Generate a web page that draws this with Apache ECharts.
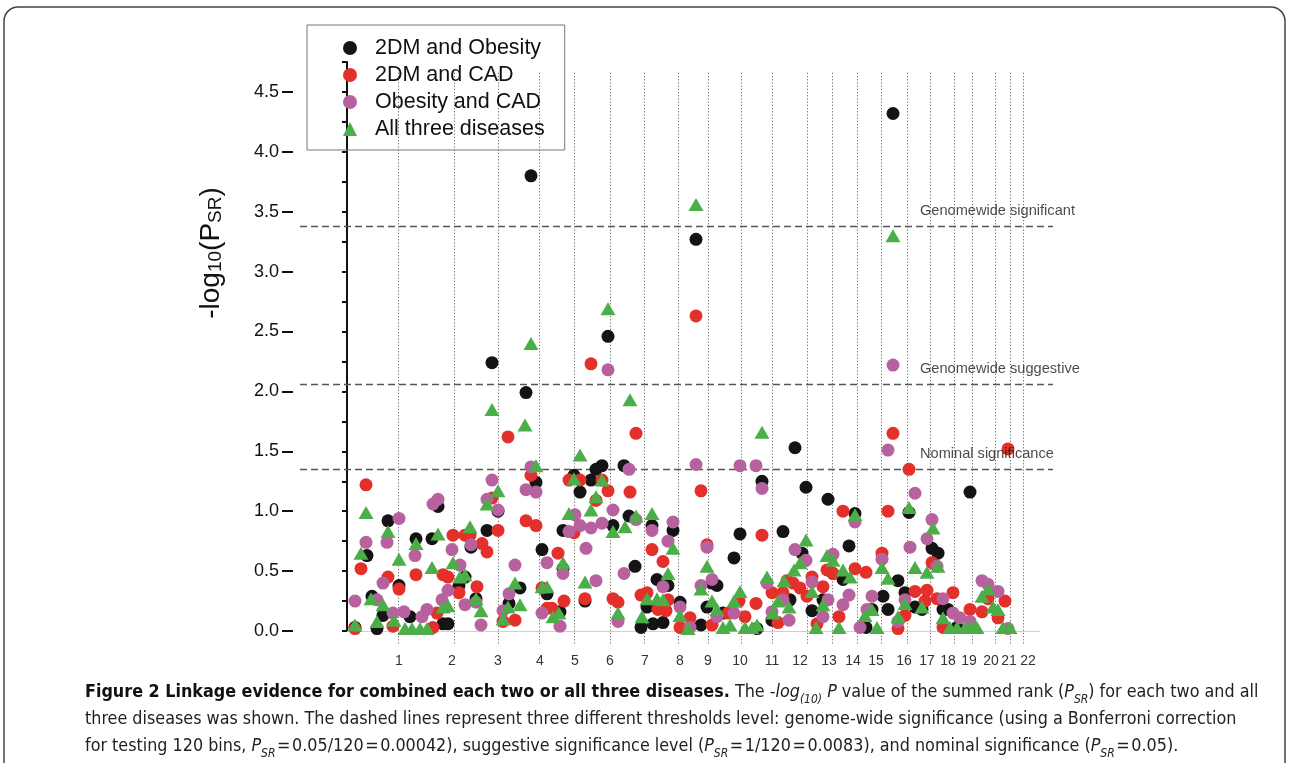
<!DOCTYPE html>
<html>
<head>
<meta charset="utf-8">
<script src="https://cdn.jsdelivr.net/npm/echarts@6/dist/echarts.min.js"></script>
<style>
html, body { margin: 0; padding: 0; background: #fff; }
#chart { width: 1290px; height: 763px; }
</style>
</head>
<body>
<div id="chart"></div>
<script>
// genome position (arbitrary units along the x axis) and -log10(P_SR)
var seriesNames = ['2DM and Obesity', '2DM and CAD', 'Obesity and CAD', 'All three diseases'];
var seriesColors = ['#141414', '#e3302a', '#b7629f', '#4cae49'];

var chrNames = ['1','2','3','4','5','6','7','8','9','10','11','12','13','14','15','16','17','18','19','20','21','22'];
var chrLabelPos = [52,105,151,193,228,263,298,333,361,393,425,453,482,506,529,557,580,601,622,644,662,681];
var chrLinePos = [51,107,151,192,227,263,297,331,361,394,425,460,485,510,534,560,583,607,625,648,663,676];

var yTicks = [0, 0.5, 1.0, 1.5, 2.0, 2.5, 3.0, 3.5, 4.0, 4.5];

var thresholds = [3.38, 2.06, 1.35];
var thresholdNames = ['Genomewide significant', 'Genomewide suggestive', 'Nominal significance'];

var dmObesity = [[8,0.03],[20,0.63],[25,0.29],[30,0.02],[36,0.13],[41,0.92],[52,0.38],[63,0.12],[69,0.77],[85,0.77],[91,1.04],[96,0.06],[101,0.06],[112,0.38],[118,0.45],[124,0.7],[129,0.27],[140,0.84],[145,2.24],[151,1.0],[162,0.23],[173,0.36],[179,1.99],[184,3.8],[189,1.24],[195,0.68],[200,0.31],[213,0.16],[216,0.52],[216,0.84],[227,1.3],[233,1.16],[238,0.25],[244,1.26],[249,1.35],[255,1.38],[261,2.46],[266,0.88],[277,1.38],[282,0.96],[288,0.54],[294,0.03],[300,0.2],[305,0.88],[306,0.06],[310,0.43],[316,0.07],[321,0.38],[326,0.84],[333,0.24],[349,3.27],[354,0.05],[360,0.2],[365,0.4],[370,0.38],[376,0.15],[387,0.61],[393,0.81],[410,0.02],[415,1.25],[425,0.09],[436,0.83],[443,0.26],[448,1.53],[455,0.65],[459,1.2],[465,0.17],[476,0.26],[481,1.1],[486,0.48],[496,0.43],[502,0.71],[508,0.98],[519,0.03],[525,0.18],[536,0.29],[541,0.18],[546,4.32],[551,0.42],[558,0.32],[562,0.99],[568,0.2],[575,0.18],[585,0.69],[591,0.65],[596,0.18],[601,0.18],[610,0.03],[623,1.16],[623,0.03]];

var dmCad = [[8,0.02],[14,0.52],[19,1.22],[41,0.45],[46,0.04],[52,0.35],[69,0.47],[86,0.03],[90,0.15],[96,0.47],[101,0.45],[106,0.8],[112,0.32],[118,0.8],[123,0.8],[130,0.37],[135,0.73],[140,0.66],[145,1.11],[151,0.84],[156,0.08],[161,1.62],[168,0.09],[179,0.92],[184,1.3],[189,0.88],[195,0.36],[200,0.19],[205,0.19],[211,0.65],[217,0.25],[222,1.26],[227,0.82],[233,1.26],[238,0.27],[244,2.23],[249,1.09],[255,1.26],[261,1.17],[266,0.27],[271,0.24],[283,1.16],[289,1.65],[294,0.3],[300,0.32],[305,0.68],[311,0.18],[316,0.58],[319,0.17],[321,0.26],[333,0.03],[343,0.11],[349,2.63],[354,1.17],[360,0.72],[365,0.05],[381,0.15],[392,0.25],[398,0.12],[409,0.23],[415,0.8],[425,0.32],[431,0.07],[436,0.32],[440,0.42],[446,0.4],[453,0.36],[460,0.29],[465,0.45],[470,0.06],[476,0.37],[480,0.51],[486,0.48],[492,0.12],[496,1.0],[508,0.52],[519,0.49],[535,0.65],[541,1.0],[546,1.65],[551,0.02],[558,0.13],[562,1.35],[568,0.33],[578,0.25],[580,0.34],[585,0.57],[590,0.27],[596,0.03],[606,0.32],[623,0.18],[635,0.16],[641,0.27],[651,0.11],[658,0.25],[661,1.52]];

var obesityCad = [[8,0.25],[19,0.74],[30,0.26],[36,0.4],[40,0.74],[46,0.15],[52,0.94],[57,0.16],[68,0.63],[75,0.12],[80,0.18],[86,1.06],[91,1.1],[95,0.26],[101,0.34],[105,0.68],[113,0.55],[118,0.22],[124,0.72],[129,0.24],[134,0.05],[140,1.1],[145,1.26],[151,1.01],[156,0.17],[162,0.31],[168,0.55],[179,1.18],[184,1.37],[189,1.16],[195,0.15],[200,0.57],[213,0.04],[216,0.48],[222,0.83],[228,0.97],[233,0.88],[239,0.69],[244,0.86],[249,0.42],[255,0.9],[261,2.18],[266,1.01],[271,0.08],[277,0.48],[282,1.35],[289,0.93],[305,0.84],[316,0.37],[321,0.75],[326,0.91],[333,0.2],[343,0.03],[349,1.39],[354,0.38],[360,0.7],[365,0.43],[370,0.12],[387,0.15],[393,1.38],[409,1.38],[415,1.19],[420,0.4],[425,0.16],[436,0.26],[442,0.09],[448,0.68],[459,0.59],[465,0.41],[476,0.12],[481,0.26],[486,0.64],[496,0.22],[502,0.3],[508,0.91],[513,0.03],[520,0.18],[525,0.29],[535,0.6],[541,1.51],[546,2.22],[551,0.08],[558,0.26],[563,0.7],[568,1.15],[580,0.77],[585,0.93],[590,0.54],[596,0.27],[606,0.15],[613,0.11],[623,0.08],[635,0.42],[641,0.39],[651,0.33],[661,0.02]];

var allThree = [[8,0.05],[14,0.65],[19,0.99],[24,0.27],[30,0.08],[36,0.22],[41,0.83],[47,0.09],[52,0.6],[58,0.02],[65,0.02],[69,0.73],[73,0.02],[80,0.02],[85,0.53],[91,0.81],[96,0.2],[101,0.21],[106,0.57],[113,0.45],[118,0.47],[123,0.87],[129,0.27],[134,0.17],[140,1.06],[145,1.85],[151,1.17],[156,0.1],[161,0.2],[168,0.4],[173,0.22],[178,1.72],[184,2.4],[189,1.38],[195,0.37],[200,0.37],[206,0.12],[212,0.15],[216,0.57],[222,0.98],[227,1.27],[233,1.47],[238,0.41],[244,1.01],[249,1.12],[255,1.26],[261,2.69],[266,0.83],[271,0.15],[278,0.87],[283,1.93],[289,0.96],[295,0.12],[300,0.27],[305,0.98],[310,0.27],[316,0.26],[321,0.48],[326,0.69],[333,0.13],[341,0.02],[349,3.56],[354,0.35],[360,0.54],[365,0.25],[370,0.18],[376,0.03],[383,0.05],[387,0.25],[393,0.33],[398,0.03],[405,0.03],[410,0.05],[415,1.66],[420,0.45],[426,0.15],[431,0.25],[437,0.42],[442,0.2],[447,0.51],[453,0.57],[459,0.76],[465,0.33],[469,0.03],[476,0.22],[480,0.63],[486,0.59],[492,0.03],[496,0.51],[503,0.45],[508,0.97],[518,0.13],[525,0.18],[530,0.03],[535,0.53],[541,0.44],[546,3.3],[551,0.12],[558,0.23],[562,1.03],[568,0.53],[575,0.2],[580,0.49],[586,0.86],[591,0.54],[596,0.11],[603,0.03],[610,0.03],[618,0.03],[625,0.04],[630,0.03],[635,0.29],[641,0.35],[646,0.2],[651,0.18],[656,0.03],[663,0.03]];

var seriesData = [dmObesity, dmCad, obesityCad, allThree];
var seriesSymbols = ['circle', 'circle', 'circle', 'triangle'];

var FONT = 'Liberation Sans, Arial, sans-serif';
var CAPTION_FONT = "'Liberation Sans Narrow', 'DejaVu Sans Condensed', sans-serif";

var chart = echarts.init(document.getElementById('chart'));

var series = [];

// chromosome boundaries
series.push({
    type: 'lines',
    coordinateSystem: 'cartesian2d',
    clip: false,
    silent: true,
    z: 1,
    lineStyle: { color: '#6a6a6a', width: 1, type: [1.2, 2], opacity: 1, curveness: 0 },
    data: chrLinePos.map(function (x) {
        return { coords: [[x, 4.66], [x, -0.117]] };
    })
});

// threshold lines
series.push({
    type: 'lines',
    coordinateSystem: 'cartesian2d',
    clip: false,
    silent: true,
    z: 1,
    lineStyle: { color: '#555', width: 1.3, type: [7, 4], opacity: 1, curveness: 0 },
    data: thresholds.map(function (t) {
        return { coords: [[-47, t], [706, t]] };
    })
});

series.push({
    type: 'scatter',
    silent: true,
    symbolSize: 0,
    z: 3,
    data: thresholds.map(function (t) { return [573, t]; }),
    label: {
        show: true,
        position: 'right',
        distance: 0,
        offset: [0, -15],
        fontSize: 14.6,
        color: '#1a1a1a',
        fontFamily: FONT,
        formatter: function (p) { return thresholdNames[p.dataIndex]; }
    }
});

for (var i = 0; i < seriesNames.length; i++) {
    series.push({
        name: seriesNames[i],
        type: 'scatter',
        symbol: seriesSymbols[i],
        symbolSize: seriesSymbols[i] === 'triangle' ? [15, 13] : 13,
        itemStyle: { color: seriesColors[i], opacity: 1 },
        z: 2,
        data: seriesData[i]
    });
}

var option = {
    backgroundColor: '#fff',
    animation: false,
    grid: { left: 347, right: 250, top: 62, bottom: 132 },
    legend: {
        data: seriesNames,
        orient: 'vertical',
        left: 307,
        top: 25,
        padding: [12, 20, 10, 36],
        itemGap: 5,
        itemWidth: 14,
        itemHeight: 14,
        borderColor: '#777',
        borderWidth: 1,
        textStyle: { fontSize: 21.5, color: '#111', fontFamily: FONT, padding: [0, 0, 0, 13] }
    },
    xAxis: {
        type: 'value',
        min: 0,
        max: 693,
        offset: 17,
        splitLine: { show: false },
        axisLine: { lineStyle: { color: '#d0d0d0', width: 1 } },
        axisTick: { show: false },
        axisLabel: {
            customValues: chrLabelPos,
            margin: 6,
            fontSize: 14,
            color: '#333',
            fontFamily: FONT,
            formatter: function (v) {
                var k = chrLabelPos.indexOf(v);
                return k >= 0 ? chrNames[k] : '';
            }
        }
    },
    yAxis: [{
        type: 'value',
        min: 0,
        max: 4.75,
        interval: 0.25,
        offset: 54,
        splitLine: { show: false },
        axisLine: { lineStyle: { color: '#111', width: 2 } },
        axisTick: { length: 5, lineStyle: { color: '#111', width: 2 } },
        axisLabel: { show: false }
    }, {
        type: 'value',
        min: 0,
        max: 4.75,
        interval: 0.25,
        offset: 54,
        position: 'left',
        splitLine: { show: false },
        axisLine: { show: false },
        axisTick: { customValues: yTicks, length: 11, lineStyle: { color: '#111', width: 2 } },
        axisLabel: {
            customValues: yTicks,
            margin: 14,
            fontSize: 18,
            color: '#111',
            fontFamily: FONT,
            formatter: function (v) { return v.toFixed(1); }
        }
    }],
    graphic: [{
        type: 'rect',
        silent: true,
        shape: { x: 4, y: 7, width: 1281, height: 820, r: 14 },
        style: { fill: 'none', stroke: '#444', lineWidth: 1.5 }
    }, {
        type: 'text',
        x: 211,
        y: 253,
        rotation: Math.PI / 2,
        silent: true,
        style: {
            text: '-log{s|10}(P{s|SR})',
            fontSize: 28,
            fontFamily: FONT,
            fill: '#111',
            align: 'center',
            verticalAlign: 'middle',
            rich: {
                s: { fontSize: 19, lineHeight: 19, verticalAlign: 'bottom', fill: '#111', fontFamily: FONT }
            }
        }
    }, {
        type: 'text',
        x: 85,
        y: 679,
        silent: true,
        style: {
            text: '{b|Figure 2 Linkage evidence for combined each two or all three diseases.} The {i|-log}{s|(10)} {i|P} value of the summed rank ({i|P}{s|SR}) for each two and all\n'
                + 'three diseases was shown. The dashed lines represent three different thresholds level: genome-wide significance (using a Bonferroni correction\n'
                + 'for testing 120 bins, {i|P}{s|SR}\u200a=\u200a0.05/120\u200a=\u200a0.00042), suggestive significance level ({i|P}{s|SR}\u200a=\u200a1/120\u200a=\u200a0.0083), and nominal significance ({i|P}{s|SR}\u200a=\u200a0.05).',
            fontSize: 17.8,
            lineHeight: 27,
            fontFamily: CAPTION_FONT,
            fill: '#222',
            rich: {
                b: { fontSize: 17.8, lineHeight: 27, fontWeight: 'bold', fill: '#111', fontFamily: CAPTION_FONT },
                i: { fontSize: 17.8, lineHeight: 27, fontStyle: 'italic', fill: '#222', fontFamily: CAPTION_FONT },
                s: { fontSize: 12, lineHeight: 16, verticalAlign: 'bottom', fontStyle: 'italic', fill: '#222', fontFamily: CAPTION_FONT }
            }
        }
    }],
    series: series
};

chart.setOption(option);
</script>
</body>
</html>
